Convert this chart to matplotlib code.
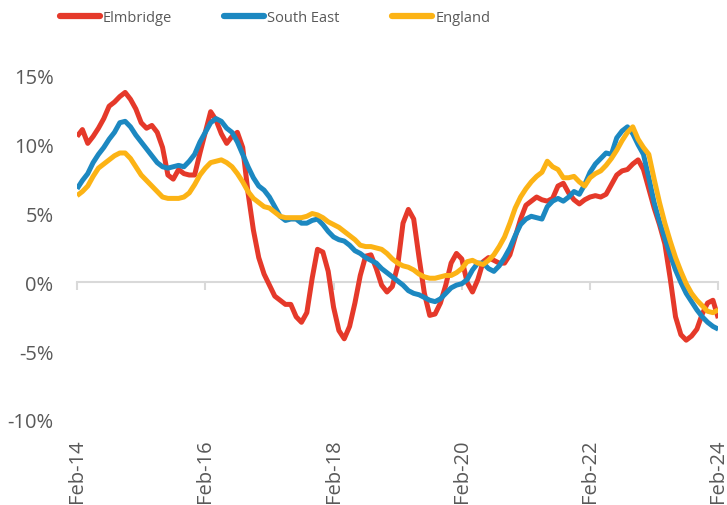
import numpy as np
import matplotlib
matplotlib.use("Agg")
import matplotlib.pyplot as plt

# monthly annual % change, Feb-14 .. Feb-24
elmbridge = [
    10.6, 11.1, 10.1, 10.6, 11.2, 11.9, 12.8, 13.1, 13.5, 13.8,
    13.3, 12.6, 11.6, 11.2, 11.4, 10.9, 9.8, 7.8, 7.5, 8.2,
    7.9, 7.8, 7.8, 9.4, 10.9, 12.4, 11.8, 10.8, 10.1, 10.6,
    10.9, 9.8, 6.5, 3.8, 1.8, 0.6, -0.2, -1.0, -1.3, -1.6,
    -1.6, -2.5, -2.9, -2.2, 0.3, 2.4, 2.2, 0.8, -1.8, -3.5,
    -4.1, -3.2, -1.5, 0.5, 1.9, 2.0, 1.0, -0.2, -0.7, -0.3,
    1.2, 4.3, 5.3, 4.6, 1.8, -0.8, -2.4, -2.3, -1.5, -0.2,
    1.4, 2.1, 1.7, 0.0, -0.7, 0.2, 1.5, 1.8, 1.6, 1.4,
    1.4, 2.0, 3.3, 4.6, 5.6, 5.9, 6.2, 6.0, 5.9, 6.1,
    7.0, 7.2, 6.5, 6.0, 5.7, 6.0, 6.2, 6.3, 6.2, 6.4,
    7.1, 7.8, 8.1, 8.2, 8.6, 8.9, 8.2, 6.8, 5.4, 4.2,
    2.8, 0.3, -2.5, -3.8, -4.2, -3.9, -3.4, -2.3, -1.5, -1.3,
    -2.6,
]
south_east = [
    6.8, 7.4, 7.9, 8.7, 9.3, 9.8, 10.4, 10.9, 11.6, 11.7,
    11.3, 10.7, 10.2, 9.7, 9.2, 8.7, 8.4, 8.3, 8.4, 8.5,
    8.4, 8.8, 9.3, 10.2, 10.9, 11.6, 11.9, 11.7, 11.2, 10.9,
    10.2, 9.3, 8.4, 7.6, 7.0, 6.7, 6.2, 5.5, 4.8, 4.5,
    4.6, 4.6, 4.3, 4.3, 4.5, 4.6, 4.2, 3.7, 3.3, 3.1,
    3.0, 2.7, 2.3, 2.1, 1.8, 1.6, 1.4, 1.0, 0.7, 0.4,
    0.1, -0.2, -0.6, -0.8, -0.9, -1.1, -1.3, -1.4, -1.2, -0.8,
    -0.4, -0.2, -0.1, 0.2, 0.9, 1.4, 1.4, 1.0, 0.8, 1.2,
    1.8, 2.5, 3.4, 4.2, 4.6, 4.8, 4.7, 4.6, 5.5, 5.9,
    6.1, 5.9, 6.2, 6.6, 6.4, 7.1, 8.0, 8.6, 9.0, 9.4,
    9.3, 10.5, 11.0, 11.3, 10.8, 10.0, 9.3, 7.6, 5.8, 4.4,
    3.2, 2.0, 0.9, 0.0, -0.8, -1.4, -2.0, -2.5, -2.9, -3.2,
    -3.4,
]
england = [
    6.3, 6.6, 7.0, 7.7, 8.3, 8.6, 8.9, 9.2, 9.4, 9.4,
    9.0, 8.4, 7.8, 7.4, 7.0, 6.6, 6.2, 6.1, 6.1, 6.1,
    6.2, 6.5, 7.1, 7.8, 8.3, 8.7, 8.8, 8.9, 8.7, 8.4,
    7.9, 7.3, 6.6, 6.1, 5.8, 5.5, 5.4, 5.1, 4.8, 4.7,
    4.7, 4.7, 4.7, 4.8, 5.0, 4.9, 4.7, 4.4, 4.2, 4.0,
    3.7, 3.4, 3.1, 2.7, 2.6, 2.6, 2.5, 2.4, 2.1, 1.7,
    1.4, 1.2, 1.1, 0.9, 0.6, 0.4, 0.3, 0.3, 0.4, 0.5,
    0.5, 0.7, 1.0, 1.5, 1.6, 1.4, 1.3, 1.6, 2.0, 2.6,
    3.3, 4.3, 5.4, 6.2, 6.8, 7.3, 7.7, 8.0, 8.8, 8.4,
    8.2, 7.6, 7.6, 7.7, 7.3, 7.0, 7.6, 7.9, 8.1, 8.5,
    9.0, 9.6, 10.3, 10.9, 11.3, 10.4, 9.8, 9.3, 7.5, 5.8,
    4.3, 3.0, 1.8, 0.8, -0.1, -0.8, -1.3, -1.7, -2.1, -2.2,
    -2.0,
]
series_names = ["Elmbridge", "South East", "England"]
tick_labels = ["Feb-14", "Feb-16", "Feb-18", "Feb-20", "Feb-22", "Feb-24"]
y_ticks = [-10, -5, 0, 5, 10, 15]

colors = ["#E5392A", "#1C88C1", "#FCB315"]
grey = "#595959"

plt.rcParams['font.family'] = ['Open Sans', 'DejaVu Sans']

fig = plt.figure(figsize=(7.27, 5.06), dpi=100)
ax = fig.add_axes([0.106, 0.168, 0.882, 0.680])

x = np.arange(len(elmbridge))
for vals, name, c in zip([elmbridge, south_east, england], series_names, colors):
    ax.plot(x, vals, color=c, lw=3.6, label=name, solid_capstyle='butt',
            solid_joinstyle='round')

ax.set_xlim(0, len(elmbridge) - 1)
ax.set_ylim(-10, 15)
ax.set_yticks(y_ticks)
ax.set_yticklabels([f"{v}%" for v in y_ticks])
ax.tick_params(axis='y', length=0, labelsize=14.5, labelcolor=grey, pad=17)

for s in ['top', 'right', 'left']:
    ax.spines[s].set_visible(False)
# axis line sits at zero, labels stay at the bottom
ax.spines['bottom'].set_position(('data', 0))
ax.spines['bottom'].set_color('#D9D9D9')
ax.spines['bottom'].set_linewidth(1.5)
ax.spines['bottom'].set_zorder(0)
tick_pos = np.arange(0, len(elmbridge), 24)
ax.set_xticks(tick_pos)
ax.tick_params(axis='x', length=6, width=1.5, color='#D9D9D9',
               direction='out', labelbottom=False)

sec = ax.secondary_xaxis('bottom')
sec.set_xticks(tick_pos)
sec.set_xticklabels(tick_labels, rotation=90)
sec.tick_params(length=0, labelsize=14.5, labelcolor=grey, pad=13)
sec.spines['bottom'].set_visible(False)

leg = fig.legend(loc='center left', bbox_to_anchor=(0.082, 0.963), ncol=3,
                 frameon=False, fontsize=10.5,
                 handlelength=2.75, handletextpad=0.2, columnspacing=3.6,
                 borderpad=0, borderaxespad=0)
for t in leg.get_texts():
    t.set_color(grey)
for h in leg.get_lines():
    h.set_linewidth(4.5)
    h.set_solid_capstyle('round')

fig.savefig("out.png", dpi=100)
